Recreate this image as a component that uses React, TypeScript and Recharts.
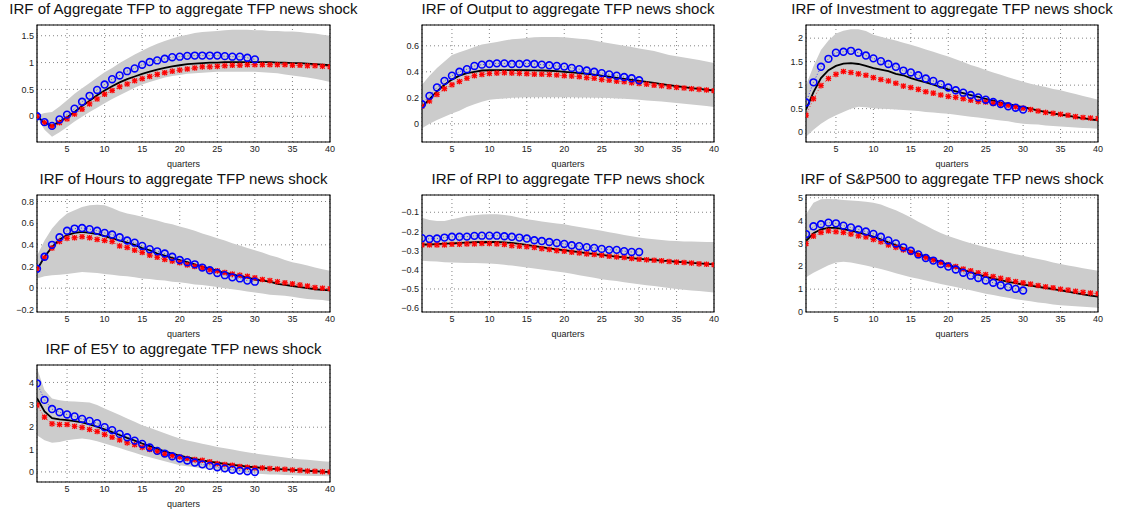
import React from 'react';
import { ComposedChart, Area, Line, XAxis, YAxis, CartesianGrid, ReferenceArea } from 'recharts';

const quarters = [
  1, 2, 3, 4, 5, 6, 7, 8, 9, 10, 11, 12, 13, 14, 15, 16, 17, 18, 19, 20,
  21, 22, 23, 24, 25, 26, 27, 28, 29, 30, 31, 32, 33, 34, 35, 36, 37, 38, 39, 40,
];
const xTicks = [5, 10, 15, 20, 25, 30, 35, 40];

// Aggregate TFP
const tfpLine = [0, -0.12, -0.18, -0.1, -0.02, 0.08, 0.19, 0.29, 0.39, 0.48, 0.56, 0.63, 0.69, 0.74, 0.79, 0.83, 0.87, 0.9, 0.93, 0.95, 0.97, 0.98, 0.99, 1.0, 1.0, 1.01, 1.01, 1.01, 1.01, 1.01, 1.01, 1.01, 1.0, 1.0, 0.99, 0.99, 0.98, 0.97, 0.96, 0.95];
const tfpStars = [0, -0.12, -0.19, -0.12, -0.05, 0.04, 0.13, 0.23, 0.32, 0.41, 0.48, 0.55, 0.6, 0.66, 0.7, 0.74, 0.78, 0.81, 0.84, 0.86, 0.88, 0.9, 0.92, 0.92, 0.93, 0.94, 0.95, 0.95, 0.96, 0.96, 0.96, 0.96, 0.96, 0.96, 0.95, 0.95, 0.94, 0.94, 0.93, 0.92];
const tfpCircles = [0, -0.11, -0.18, -0.06, 0.03, 0.14, 0.27, 0.38, 0.49, 0.59, 0.69, 0.76, 0.84, 0.89, 0.96, 1.01, 1.04, 1.07, 1.1, 1.11, 1.125, 1.13, 1.13, 1.13, 1.13, 1.12, 1.11, 1.11, 1.09, 1.06];
const tfpHi = [0.02, 0.06, 0.08, 0.18, 0.3, 0.42, 0.52, 0.62, 0.72, 0.82, 0.9, 0.99, 1.07, 1.15, 1.22, 1.29, 1.35, 1.4, 1.45, 1.49, 1.52, 1.55, 1.57, 1.58, 1.59, 1.6, 1.61, 1.61, 1.61, 1.6, 1.6, 1.59, 1.59, 1.58, 1.58, 1.57, 1.55, 1.54, 1.52, 1.5];
const tfpLo = [-0.02, -0.25, -0.38, -0.3, -0.2, -0.1, -0.01, 0.08, 0.16, 0.24, 0.32, 0.39, 0.46, 0.53, 0.59, 0.64, 0.68, 0.72, 0.75, 0.77, 0.79, 0.8, 0.81, 0.82, 0.83, 0.83, 0.83, 0.83, 0.83, 0.83, 0.82, 0.81, 0.8, 0.78, 0.76, 0.74, 0.72, 0.7, 0.67, 0.64];

// Output
const outLine = [0.13, 0.19, 0.25, 0.3, 0.34, 0.37, 0.39, 0.4, 0.41, 0.412, 0.413, 0.413, 0.413, 0.413, 0.412, 0.411, 0.41, 0.408, 0.405, 0.4, 0.395, 0.39, 0.385, 0.378, 0.37, 0.362, 0.353, 0.345, 0.337, 0.33, 0.322, 0.314, 0.306, 0.298, 0.29, 0.282, 0.275, 0.268, 0.262, 0.256];
const outStars = [0.135, 0.175, 0.225, 0.27, 0.3, 0.325, 0.35, 0.37, 0.38, 0.387, 0.39, 0.392, 0.39, 0.388, 0.385, 0.382, 0.382, 0.38, 0.375, 0.37, 0.367, 0.362, 0.355, 0.35, 0.34, 0.335, 0.328, 0.323, 0.315, 0.31, 0.305, 0.297, 0.292, 0.285, 0.28, 0.275, 0.27, 0.265, 0.26, 0.254];
const outCircles = [0.15, 0.215, 0.28, 0.33, 0.37, 0.4, 0.42, 0.445, 0.455, 0.46, 0.465, 0.465, 0.46, 0.46, 0.465, 0.46, 0.455, 0.45, 0.445, 0.44, 0.43, 0.42, 0.41, 0.4, 0.39, 0.38, 0.37, 0.36, 0.35, 0.335];
const outHi = [0.3, 0.37, 0.43, 0.48, 0.53, 0.55, 0.57, 0.59, 0.61, 0.62, 0.63, 0.64, 0.65, 0.655, 0.66, 0.665, 0.667, 0.667, 0.667, 0.665, 0.66, 0.655, 0.65, 0.64, 0.63, 0.62, 0.61, 0.6, 0.59, 0.58, 0.57, 0.56, 0.545, 0.53, 0.52, 0.51, 0.5, 0.49, 0.48, 0.467];
const outLo = [-0.035, 0.0, 0.03, 0.055, 0.08, 0.1, 0.13, 0.15, 0.17, 0.185, 0.19, 0.195, 0.2, 0.203, 0.205, 0.205, 0.205, 0.205, 0.205, 0.205, 0.204, 0.203, 0.202, 0.201, 0.2, 0.198, 0.195, 0.192, 0.189, 0.185, 0.18, 0.176, 0.171, 0.166, 0.16, 0.155, 0.149, 0.143, 0.137, 0.13];

// Investment
const invLine = [0.48, 0.85, 1.15, 1.32, 1.41, 1.46, 1.47, 1.45, 1.41, 1.36, 1.33, 1.3, 1.24, 1.21, 1.15, 1.1, 1.06, 1.01, 0.96, 0.91, 0.87, 0.83, 0.79, 0.75, 0.71, 0.67, 0.63, 0.6, 0.56, 0.53, 0.5, 0.46, 0.43, 0.4, 0.37, 0.35, 0.32, 0.3, 0.27, 0.25];
const invStars = [0.36, 0.71, 0.99, 1.14, 1.23, 1.29, 1.27, 1.24, 1.21, 1.16, 1.12, 1.09, 1.04, 0.98, 0.95, 0.91, 0.86, 0.83, 0.79, 0.76, 0.74, 0.71, 0.68, 0.65, 0.64, 0.61, 0.59, 0.57, 0.54, 0.51, 0.48, 0.45, 0.42, 0.4, 0.38, 0.36, 0.33, 0.31, 0.3, 0.29];
const invCircles = [0.63, 1.06, 1.39, 1.56, 1.69, 1.71, 1.73, 1.69, 1.63, 1.57, 1.51, 1.45, 1.39, 1.31, 1.27, 1.21, 1.14, 1.09, 1.02, 0.95, 0.89, 0.84, 0.79, 0.74, 0.69, 0.64, 0.6, 0.55, 0.52, 0.48];
const invHi = [1.0, 1.4, 1.75, 1.95, 2.1, 2.16, 2.19, 2.19, 2.15, 2.07, 2.03, 1.99, 1.95, 1.9, 1.86, 1.81, 1.76, 1.71, 1.66, 1.61, 1.55, 1.49, 1.43, 1.38, 1.32, 1.27, 1.22, 1.17, 1.12, 1.07, 1.03, 0.99, 0.96, 0.92, 0.89, 0.85, 0.81, 0.77, 0.73, 0.69];
const invLo = [-0.1, 0.05, 0.18, 0.28, 0.36, 0.43, 0.5, 0.54, 0.53, 0.51, 0.5, 0.49, 0.48, 0.47, 0.46, 0.45, 0.43, 0.42, 0.4, 0.39, 0.37, 0.35, 0.33, 0.31, 0.29, 0.27, 0.25, 0.23, 0.2, 0.18, 0.17, 0.16, 0.14, 0.13, 0.12, 0.11, 0.1, 0.09, 0.08, 0.07];

// Hours
const hrsLine = [0.17, 0.29, 0.38, 0.45, 0.49, 0.51, 0.52, 0.51, 0.5, 0.48, 0.46, 0.44, 0.42, 0.4, 0.37, 0.35, 0.32, 0.3, 0.28, 0.26, 0.24, 0.22, 0.2, 0.18, 0.16, 0.14, 0.13, 0.11, 0.1, 0.08, 0.07, 0.06, 0.04, 0.03, 0.02, 0.01, 0.0, -0.01, -0.015, -0.02];
const hrsStars = [0.18, 0.28, 0.37, 0.43, 0.46, 0.465, 0.475, 0.465, 0.45, 0.44, 0.43, 0.39, 0.375, 0.35, 0.33, 0.305, 0.285, 0.265, 0.25, 0.235, 0.215, 0.2, 0.185, 0.17, 0.16, 0.145, 0.13, 0.12, 0.11, 0.095, 0.08, 0.07, 0.06, 0.05, 0.04, 0.03, 0.02, 0.006, 0.0, -0.006];
const hrsCircles = [0.18, 0.29, 0.4, 0.47, 0.53, 0.55, 0.555, 0.545, 0.53, 0.51, 0.495, 0.47, 0.44, 0.42, 0.39, 0.36, 0.34, 0.32, 0.29, 0.26, 0.24, 0.22, 0.19, 0.165, 0.14, 0.12, 0.1, 0.09, 0.07, 0.06];
const hrsHi = [0.3, 0.44, 0.55, 0.63, 0.69, 0.72, 0.75, 0.765, 0.77, 0.765, 0.74, 0.71, 0.69, 0.675, 0.66, 0.64, 0.625, 0.605, 0.59, 0.57, 0.55, 0.53, 0.505, 0.485, 0.46, 0.44, 0.415, 0.395, 0.37, 0.35, 0.33, 0.305, 0.285, 0.26, 0.24, 0.225, 0.21, 0.19, 0.175, 0.16];
const hrsLo = [0.09, 0.11, 0.12, 0.125, 0.13, 0.14, 0.15, 0.145, 0.14, 0.13, 0.125, 0.115, 0.11, 0.1, 0.09, 0.085, 0.075, 0.07, 0.06, 0.055, 0.045, 0.035, 0.03, 0.02, 0.01, 0.0, -0.01, -0.02, -0.03, -0.04, -0.05, -0.06, -0.065, -0.07, -0.08, -0.09, -0.1, -0.105, -0.11, -0.12];

// RPI
const rpiLine = [-0.268, -0.268, -0.266, -0.264, -0.262, -0.26, -0.258, -0.256, -0.255, -0.254, -0.255, -0.257, -0.26, -0.265, -0.27, -0.276, -0.282, -0.288, -0.293, -0.298, -0.303, -0.308, -0.313, -0.318, -0.322, -0.327, -0.331, -0.335, -0.339, -0.343, -0.346, -0.349, -0.352, -0.355, -0.358, -0.361, -0.364, -0.366, -0.369, -0.371];
const rpiStars = [-0.27, -0.27, -0.27, -0.27, -0.267, -0.267, -0.265, -0.265, -0.263, -0.263, -0.265, -0.268, -0.274, -0.277, -0.28, -0.284, -0.29, -0.294, -0.3, -0.303, -0.308, -0.312, -0.317, -0.32, -0.324, -0.329, -0.333, -0.336, -0.341, -0.345, -0.348, -0.35, -0.353, -0.357, -0.36, -0.362, -0.365, -0.369, -0.371, -0.374];
const rpiCircles = [-0.235, -0.239, -0.237, -0.232, -0.228, -0.228, -0.227, -0.223, -0.222, -0.222, -0.222, -0.225, -0.228, -0.232, -0.237, -0.246, -0.25, -0.255, -0.26, -0.265, -0.272, -0.277, -0.282, -0.286, -0.291, -0.296, -0.296, -0.303, -0.307, -0.307];
const rpiHi = [-0.128, -0.14, -0.145, -0.145, -0.136, -0.128, -0.12, -0.115, -0.112, -0.11, -0.11, -0.114, -0.12, -0.128, -0.136, -0.142, -0.148, -0.153, -0.158, -0.163, -0.17, -0.177, -0.184, -0.19, -0.197, -0.204, -0.211, -0.218, -0.225, -0.232, -0.237, -0.241, -0.245, -0.248, -0.25, -0.252, -0.253, -0.254, -0.255, -0.255];
const rpiLo = [-0.353, -0.355, -0.357, -0.36, -0.362, -0.363, -0.364, -0.365, -0.366, -0.367, -0.37, -0.374, -0.378, -0.383, -0.388, -0.393, -0.398, -0.404, -0.409, -0.414, -0.421, -0.428, -0.435, -0.442, -0.449, -0.454, -0.459, -0.465, -0.47, -0.475, -0.48, -0.485, -0.49, -0.495, -0.5, -0.504, -0.508, -0.511, -0.515, -0.518];

// S&P500
const spLine = [3.1, 3.45, 3.62, 3.68, 3.68, 3.63, 3.56, 3.48, 3.39, 3.3, 3.18, 3.05, 2.93, 2.8, 2.67, 2.55, 2.42, 2.3, 2.18, 2.06, 1.95, 1.84, 1.74, 1.64, 1.55, 1.46, 1.39, 1.32, 1.26, 1.2, 1.15, 1.1, 1.05, 1.0, 0.95, 0.89, 0.83, 0.77, 0.72, 0.67];
const spStars = [2.99, 3.32, 3.48, 3.55, 3.51, 3.48, 3.41, 3.33, 3.28, 3.17, 3.07, 2.93, 2.83, 2.72, 2.61, 2.48, 2.38, 2.28, 2.17, 2.07, 1.99, 1.88, 1.8, 1.72, 1.64, 1.55, 1.48, 1.41, 1.33, 1.28, 1.22, 1.16, 1.1, 1.06, 1.0, 0.96, 0.91, 0.86, 0.83, 0.8];
const spCircles = [3.41, 3.75, 3.84, 3.91, 3.88, 3.78, 3.7, 3.61, 3.52, 3.42, 3.29, 3.13, 3.0, 2.83, 2.68, 2.52, 2.36, 2.25, 2.1, 1.99, 1.86, 1.72, 1.59, 1.49, 1.38, 1.28, 1.17, 1.09, 1.01, 0.94];
const spHi = [4.28, 4.78, 4.93, 4.95, 4.93, 4.9, 4.88, 4.86, 4.83, 4.78, 4.7, 4.57, 4.45, 4.3, 4.13, 3.95, 3.78, 3.61, 3.46, 3.33, 3.22, 3.11, 3.01, 2.92, 2.83, 2.76, 2.68, 2.6, 2.53, 2.46, 2.39, 2.32, 2.25, 2.17, 2.1, 2.04, 1.98, 1.92, 1.86, 1.81];
const spLo = [1.52, 1.72, 1.88, 2.05, 2.17, 2.2, 2.17, 2.1, 2.03, 1.96, 1.88, 1.79, 1.7, 1.61, 1.52, 1.45, 1.38, 1.3, 1.23, 1.16, 1.09, 1.02, 0.95, 0.88, 0.8, 0.74, 0.68, 0.62, 0.56, 0.51, 0.47, 0.42, 0.38, 0.33, 0.29, 0.27, 0.25, 0.23, 0.21, 0.19];

// E5Y
const e5yLine = [3.3, 2.7, 2.4, 2.35, 2.32, 2.27, 2.22, 2.13, 2.02, 1.9, 1.78, 1.65, 1.52, 1.4, 1.27, 1.15, 1.03, 0.92, 0.82, 0.73, 0.65, 0.58, 0.52, 0.46, 0.41, 0.36, 0.32, 0.28, 0.24, 0.21, 0.18, 0.15, 0.13, 0.11, 0.09, 0.07, 0.05, 0.03, 0.01, -0.01];
const e5yStars = [2.99, 2.45, 2.15, 2.12, 2.12, 2.04, 1.99, 1.9, 1.81, 1.67, 1.55, 1.43, 1.3, 1.22, 1.1, 1.0, 0.9, 0.79, 0.73, 0.67, 0.6, 0.55, 0.52, 0.45, 0.37, 0.33, 0.3, 0.24, 0.21, 0.18, 0.18, 0.15, 0.13, 0.12, 0.09, 0.07, 0.04, 0.03, 0.01, 0.0];
const e5yCircles = [3.96, 3.22, 2.81, 2.67, 2.57, 2.48, 2.37, 2.28, 2.18, 2.0, 1.87, 1.7, 1.55, 1.4, 1.25, 1.09, 0.94, 0.82, 0.7, 0.6, 0.51, 0.42, 0.34, 0.27, 0.21, 0.16, 0.1, 0.06, 0.03, 0.0];
const e5yHi = [4.63, 3.66, 3.28, 3.2, 3.16, 3.15, 3.13, 3.1, 2.99, 2.84, 2.69, 2.54, 2.39, 2.24, 2.09, 1.97, 1.85, 1.73, 1.61, 1.49, 1.41, 1.34, 1.26, 1.19, 1.12, 1.06, 1.0, 0.94, 0.88, 0.82, 0.78, 0.73, 0.69, 0.64, 0.6, 0.57, 0.54, 0.51, 0.48, 0.45];
const e5yLo = [1.64, 1.42, 1.3, 1.34, 1.42, 1.46, 1.49, 1.45, 1.37, 1.27, 1.17, 1.07, 0.96, 0.86, 0.75, 0.66, 0.57, 0.48, 0.39, 0.3, 0.25, 0.21, 0.16, 0.12, 0.07, 0.04, 0.01, -0.02, -0.05, -0.07, -0.09, -0.11, -0.12, -0.14, -0.15, -0.16, -0.17, -0.18, -0.185, -0.19];

const FONT = '"Liberation Sans", Arial, Helvetica, sans-serif';
const PLOT_H = 117;
const Y_AXIS_W = 40;
const MARGIN_TOP = 5;
const MARGIN_RIGHT = 10;
const X_AXIS_H = 30;

const panels = [
  { title: 'IRF of Aggregate TFP to aggregate TFP news shock', line: tfpLine, stars: tfpStars, circles: tfpCircles, lo: tfpLo, hi: tfpHi, domain: [-0.48, 1.7], ticks: [0, 0.5, 1, 1.5], left: 37, top: 25, width: 293 },
  { title: 'IRF of Output to aggregate TFP news shock', line: outLine, stars: outStars, circles: outCircles, lo: outLo, hi: outHi, domain: [-0.14, 0.76], ticks: [0, 0.2, 0.4, 0.6], left: 422, top: 25, width: 292 },
  { title: 'IRF of Investment to aggregate TFP news shock', line: invLine, stars: invStars, circles: invCircles, lo: invLo, hi: invHi, domain: [-0.21, 2.28], ticks: [0, 0.5, 1, 1.5, 2], left: 806, top: 25, width: 292 },
  { title: 'IRF of Hours to aggregate TFP news shock', line: hrsLine, stars: hrsStars, circles: hrsCircles, lo: hrsLo, hi: hrsHi, domain: [-0.22, 0.86], ticks: [-0.2, 0, 0.2, 0.4, 0.6, 0.8], left: 37, top: 195, width: 293 },
  { title: 'IRF of RPI to aggregate TFP news shock', line: rpiLine, stars: rpiStars, circles: rpiCircles, lo: rpiLo, hi: rpiHi, domain: [-0.62, -0.01], ticks: [-0.6, -0.5, -0.4, -0.3, -0.2, -0.1], left: 422, top: 195, width: 292 },
  { title: 'IRF of S&P500 to aggregate TFP news shock', line: spLine, stars: spStars, circles: spCircles, lo: spLo, hi: spHi, domain: [0, 5.12], ticks: [0, 1, 2, 3, 4, 5], left: 806, top: 195, width: 292 },
  { title: 'IRF of E5Y to aggregate TFP news shock', line: e5yLine, stars: e5yStars, circles: e5yCircles, lo: e5yLo, hi: e5yHi, domain: [-0.45, 4.78], ticks: [0, 1, 2, 3, 4], left: 37, top: 365, width: 293 },
];

const StarDot = (props: any) => {
  const { cx, cy, value, index } = props;
  if (value == null || cx == null || cy == null) return <g key={`s${index}`} />;
  const s = 2.3;
  const p = 2.8;
  return (
    <g key={`s${index}`} stroke="#ff0000" strokeWidth={1.3}>
      <line x1={cx - s} y1={cy - s} x2={cx + s} y2={cy + s} />
      <line x1={cx - s} y1={cy + s} x2={cx + s} y2={cy - s} />
      <line x1={cx} y1={cy - p} x2={cx} y2={cy + p} />
      <line x1={cx - p} y1={cy} x2={cx + p} y2={cy} />
    </g>
  );
};

const CircleDot = (props: any) => {
  const { cx, cy, value, index } = props;
  if (value == null || cx == null || cy == null) return <g key={`c${index}`} />;
  return <circle key={`c${index}`} cx={cx} cy={cy} r={3.4} fill="none" stroke="#0000ff" strokeWidth={1.6} />;
};

const fmt = (v: number) => String(v).replace('-', '\u2212');

const Panel = ({ p }: { p: (typeof panels)[number] }) => {
  const data = quarters.map((q, i) => ({
    q,
    band: [p.lo[i], p.hi[i]],
    line: p.line[i],
    stars: p.stars[i],
    circles: i < p.circles.length ? p.circles[i] : null,
  }));
  const chartW = Y_AXIS_W + p.width + MARGIN_RIGHT;
  const chartH = MARGIN_TOP + PLOT_H + X_AXIS_H;
  const tickStyle = { fontSize: 9, fill: '#222', fontFamily: FONT };

  return (
    <>
      <div
        style={{
          position: 'absolute',
          left: p.left - 40,
          width: p.width + 80,
          top: p.top - 25,
          textAlign: 'center',
          fontFamily: FONT,
          fontSize: 15,
          lineHeight: '17px',
          color: '#111',
          whiteSpace: 'nowrap',
        }}
      >
        {p.title}
      </div>
      <div style={{ position: 'absolute', left: p.left - Y_AXIS_W, top: p.top - MARGIN_TOP }}>
        <ComposedChart
          width={chartW}
          height={chartH}
          data={data}
          margin={{ top: MARGIN_TOP, right: MARGIN_RIGHT, left: 0, bottom: 0 }}
        >
          <XAxis
            dataKey="q"
            type="number"
            domain={[1, 40]}
            ticks={xTicks}
            allowDataOverflow
            axisLine={false}
            tickLine={false}
            tickSize={3}
            tickMargin={1}
            height={X_AXIS_H}
            tick={tickStyle}
            label={{ value: 'quarters', position: 'insideBottom', offset: 5, style: { fontSize: 9, fill: '#222', fontFamily: FONT } }}
          />
          <YAxis
            type="number"
            domain={p.domain}
            ticks={p.ticks}
            allowDataOverflow
            axisLine={false}
            tickLine={false}
            tickSize={2}
            tickMargin={1}
            width={Y_AXIS_W}
            tick={tickStyle}
            tickFormatter={fmt}
          />
          <Area
            dataKey="band"
            type="linear"
            stroke="none"
            fill="#cccccc"
            fillOpacity={1}
            isAnimationActive={false}
            activeDot={false}
          />
          <CartesianGrid stroke="#666" strokeDasharray="1 3" strokeWidth={0.8} />
          <Line
            dataKey="stars"
            type="linear"
            stroke="#ff0000"
            strokeWidth={0.7}
            strokeDasharray="1 2"
            dot={StarDot}
            activeDot={false}
            isAnimationActive={false}
          />
          <Line
            dataKey="line"
            type="linear"
            stroke="#000"
            strokeWidth={1.8}
            dot={false}
            activeDot={false}
            isAnimationActive={false}
          />
          <Line
            dataKey="circles"
            type="linear"
            stroke="#0000ff"
            strokeWidth={0.7}
            strokeDasharray="1 2"
            dot={CircleDot}
            activeDot={false}
            isAnimationActive={false}
          />
          <ReferenceArea
            x1={1}
            x2={40}
            y1={p.domain[0]}
            y2={p.domain[1]}
            fill="none"
            stroke="#000"
            strokeWidth={1.2}
            ifOverflow="visible"
          />
        </ComposedChart>
      </div>
    </>
  );
};

export default function App() {
  return (
    <div style={{ position: 'absolute', left: 0, top: 0, width: 1124, height: 511, background: '#fff' }}>
      {panels.map((p) => (
        <Panel key={p.title} p={p} />
      ))}
    </div>
  );
}
